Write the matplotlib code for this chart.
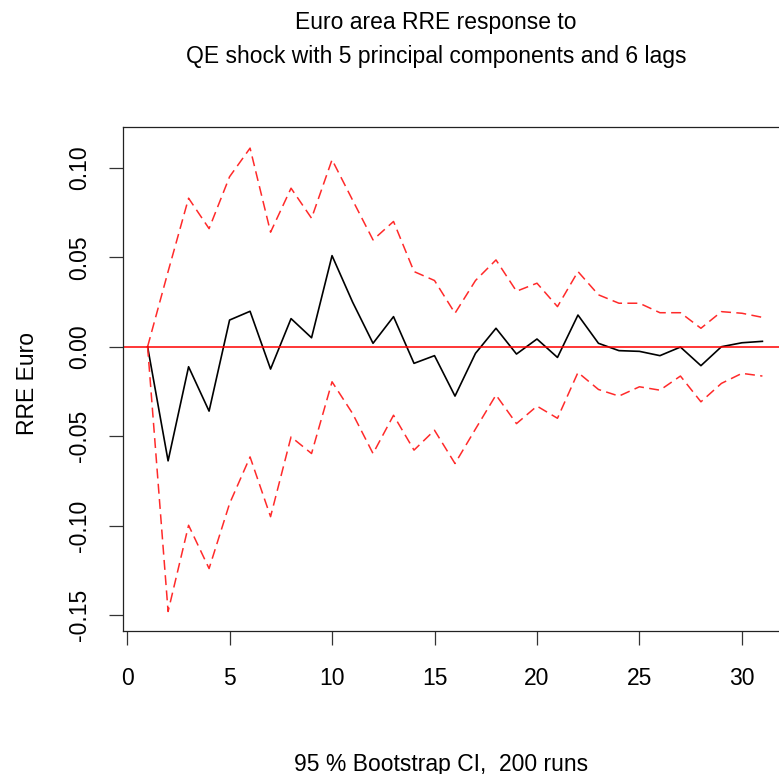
import matplotlib
matplotlib.use("Agg")
import matplotlib.pyplot as plt
import numpy as np

plt.rcParams['font.family'] = ['Liberation Sans', 'DejaVu Sans']

horizon = list(range(1, 32))
irf = [0.0, -0.0638, -0.0112, -0.036, 0.0149, 0.0198, -0.0125, 0.0157, 0.0050, 0.0509,
       0.025, 0.0019, 0.0168, -0.0093, -0.0050, -0.0276, -0.0037, 0.0103, -0.0041, 0.0043,
       -0.0060, 0.0177, 0.0019, -0.0022, -0.0026, -0.0050, -0.0002, -0.0106, 0.0, 0.0022, 0.0030]
upper = [0.0, 0.042, 0.083, 0.066, 0.095, 0.111, 0.064, 0.0886, 0.0718, 0.1045,
         0.082, 0.0597, 0.070, 0.042, 0.037, 0.0187, 0.037, 0.0485, 0.031, 0.0355,
         0.0224, 0.042, 0.029, 0.0243, 0.0243, 0.019, 0.019, 0.0103, 0.0196, 0.0187, 0.0164]
lower = [0.0, -0.148, -0.0998, -0.124, -0.0877, -0.0616, -0.095, -0.0504, -0.0597, -0.0196,
         -0.0373, -0.0597, -0.0383, -0.0578, -0.0467, -0.0653, -0.046, -0.027, -0.043, -0.0332,
         -0.040, -0.0144, -0.0239, -0.0276, -0.0224, -0.0243, -0.0164, -0.0308, -0.0205, -0.0149, -0.0164]
xticks = [0, 5, 10, 15, 20, 25, 30]
yticks = [-0.15, -0.10, -0.05, 0.00, 0.05, 0.10]
ytick_labels = ["-0.15", "-0.10", "-0.05", "0.00", "0.05", "0.10"]

W, H = 779, 774
fig = plt.figure(figsize=(W / 100, H / 100), dpi=100)
ax = fig.add_axes([123 / W, (H - 631) / H, (787 - 123) / W, (631 - 127) / H])

ax.plot(horizon, irf, color='black', lw=1.2)
ax.plot(horizon, upper, color='#ff2a2a', lw=1.1, dashes=(6.5, 3.5))
ax.plot(horizon, lower, color='#ff2a2a', lw=1.1, dashes=(6.5, 3.5))
ax.axhline(0, color='#ff0000', lw=1.1)

ax.set_xlim(-0.2, 32.2)
ax.set_ylim(-0.1589, 0.1228)
ax.set_xticks(xticks)
ax.set_xticklabels([str(v) for v in xticks])
ax.set_yticks(yticks)
ax.set_yticklabels(ytick_labels, rotation=90, va='center')

for s in ax.spines.values():
    s.set_linewidth(0.9)
    s.set_color('#222222')
ax.tick_params(axis='both', direction='out', length=10, width=0.9, color='#333333',
               labelsize=16.5, pad=16)
ax.tick_params(axis='y', pad=13)

fig.text(28 / W, 1 - 383 / H, "RRE Euro", rotation=90, ha='center', va='center', fontsize=16.5)
fig.text(436 / W, 1 - 23 / H, "Euro area RRE response to", ha='center', va='center', fontsize=16.5)
fig.text(436 / W, 1 - 56 / H, "QE shock with 5 principal components and 6 lags", ha='center', va='center', fontsize=16.5)
fig.text(441 / W, 1 - 764 / H, "95 % Bootstrap CI,  200 runs", ha='center', va='center', fontsize=16.5)

fig.savefig("out.png", dpi=100)
